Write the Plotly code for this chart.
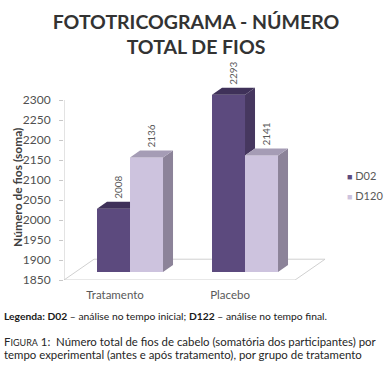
import plotly.graph_objects as go

# ---------------- data ----------------
categories = ["Tratamento", "Placebo"]
series_names = ["D02", "D120"]
d02_values = [2008, 2293]
d120_values = [2136, 2141]
y_tick_values = [1850, 1900, 1950, 2000, 2050, 2100, 2150, 2200, 2250, 2300]

title_text = "FOTOTRICOGRAMA - NÚMERO<br>TOTAL DE FIOS"
y_title = "Número de fios (soma)"
caption_legend = "<b>Legenda: D02</b> – análise no tempo inicial; <b>D122</b> – análise no tempo final."
caption_fig_1 = "F<span style='font-size:9px'>IGURA</span> 1:  Número total de fios de cabelo (somatória dos participantes) por"
caption_fig_2 = "tempo experimental (antes e após tratamento), por grupo de tratamento"

# ---------------- style ----------------
FONT = "Lato"
FRONT = {"D02": "#5c4a7e", "D120": "#cdc3de"}
TOP = {"D02": "#3f3159", "D120": "#a59cb5"}
SIDE = {"D02": "#46375f", "D120": "#8c8399"}
GRAY_TXT = "#595959"

Y_MIN, Y_MAX = 1850, 2300
Y_RANGE = [1850, 2400]
X_RANGE = [-0.574, 1.739]
BAR_W = 0.287          # width of a bar in category units
DEPTH_X = 0.087        # oblique depth of bars (category units)
DEPTH_Y = 17.5         # oblique depth of bars (value units)
INSET_Y = 20           # bars sit a bit behind the front of the floor
FLOOR_W = 2.009
FLOOR_DX = 0.261
FLOOR_DY = 52
LABEL_SHIFT = -0.13

fig = go.Figure()

# floor (3D base) drawn below the traces
fx0 = X_RANGE[0]
fig.add_shape(type="path", layer="below",
              path=(f"M {fx0},{Y_MIN} L {fx0 + FLOOR_W},{Y_MIN} "
                    f"L {fx0 + FLOOR_W + FLOOR_DX},{Y_MIN + FLOOR_DY} "
                    f"L {fx0 + FLOOR_DX},{Y_MIN + FLOOR_DY} Z"),
              line=dict(color="#d0d0d0", width=1), fillcolor="rgba(0,0,0,0)")

series = [("D02", d02_values, -1), ("D120", d120_values, 1)]
base = Y_MIN + INSET_Y
for s_idx, (name, vals, side) in enumerate(series):
    xs = [i + side * BAR_W / 2 for i in range(len(categories))]
    nxt = series[s_idx + 1][1] if s_idx + 1 < len(series) else None
    sx, sy, tx, ty = [], [], [], []
    for k, (xc, v) in enumerate(zip(xs, vals)):
        x0, x1 = xc - BAR_W / 2, xc + BAR_W / 2
        top = v + INSET_Y
        top_next = (nxt[k] + INSET_Y) if nxt is not None else None
        # side face (hidden behind the neighbouring bar below its top)
        low = base if top_next is None else max(base, top_next)
        if low < top:
            sx += [x1, x1, x1 + DEPTH_X, x1 + DEPTH_X, x1, None]
            sy += [low, top, top + DEPTH_Y, low + DEPTH_Y, low, None]
        # top face
        if top_next is not None and top_next >= top + DEPTH_Y:
            tx += [x0, x1, x1, x0 + DEPTH_X, x0, None]
            ty += [top, top, top + DEPTH_Y, top + DEPTH_Y, top, None]
        else:
            tx += [x0, x1, x1 + DEPTH_X, x0 + DEPTH_X, x0, None]
            ty += [top, top, top + DEPTH_Y, top + DEPTH_Y, top, None]
    fig.add_trace(go.Bar(x=xs, y=[v - Y_MIN for v in vals], base=base,
                         width=BAR_W, name=name,
                         marker=dict(color=FRONT[name], line=dict(width=0)),
                         showlegend=False))
    if sx:
        fig.add_trace(go.Scatter(x=sx, y=sy, fill="toself", fillcolor=SIDE[name],
                                 mode="lines", line=dict(width=0, color=SIDE[name]),
                                 hoverinfo="skip", showlegend=False))
    fig.add_trace(go.Scatter(x=tx, y=ty, fill="toself", fillcolor=TOP[name],
                             mode="lines", line=dict(width=0, color=TOP[name]),
                             hoverinfo="skip", showlegend=False))
    for xc, v in zip(xs, vals):
        fig.add_annotation(x=xc + DEPTH_X / 2, y=v + INSET_Y + DEPTH_Y, text=str(v),
                           textangle=-90, showarrow=False, xanchor="center", yanchor="bottom",
                           yshift=1, font=dict(family=FONT, size=10, color=GRAY_TXT))

# vertical axis line
fig.add_shape(type="line", x0=X_RANGE[0], x1=X_RANGE[0], y0=Y_MIN, y1=Y_MAX,
              line=dict(color="#c8c8c8", width=1))

# y axis title
fig.add_annotation(xref="paper", yref="paper", x=-0.1767, y=0.4227, textangle=-90,
                   showarrow=False, xanchor="center", yanchor="middle", text=f"<b>{y_title}</b>",
                   font=dict(family=FONT, size=12, color="#404040"))

# manual legend
legend_y = [0.477, 0.386]
for (name, _, _), ly in zip(series, legend_y):
    fig.add_annotation(xref="paper", yref="paper", x=1.055, y=ly, xanchor="left", yanchor="middle",
                       showarrow=False,
                       text=f"<span style='color:{FRONT[name]};font-size:9px'>■</span> {name}",
                       font=dict(family=FONT, size=11, color=GRAY_TXT))

# captions
cap_x = (2 - 64) / 266
fig.add_annotation(xref="paper", yref="paper", x=cap_x, y=-0.1636, xanchor="left", yanchor="middle",
                   showarrow=False, text=caption_legend,
                   font=dict(family=FONT, size=10.3, color="#1a1a1a"))
fig.add_annotation(xref="paper", yref="paper", x=cap_x, y=-0.2818, xanchor="left", yanchor="middle",
                   showarrow=False, text=caption_fig_1,
                   font=dict(family=FONT, size=11.4, color="#262626"))
fig.add_annotation(xref="paper", yref="paper", x=cap_x, y=-0.3409, xanchor="left", yanchor="middle",
                   showarrow=False, text=caption_fig_2,
                   font=dict(family=FONT, size=11.4, color="#262626"))

fig.update_layout(
    width=392, height=371,
    margin=dict(l=64, r=62, t=60, b=91),
    paper_bgcolor="white", plot_bgcolor="white",
    barmode="overlay",
    title=dict(text=title_text, x=0.5, xref="container", xanchor="center",
               y=1 - 28.5 / 371, yref="container", yanchor="middle",
               font=dict(family=FONT, size=19.5, color="#333333", weight="bold")),
    xaxis=dict(range=X_RANGE, tickvals=[i + LABEL_SHIFT for i in range(len(categories))],
               ticktext=categories, showgrid=False, zeroline=False, showline=False, ticks="",
               ticklabelstandoff=6, automargin=False,
               tickfont=dict(family=FONT, size=11.5, color=GRAY_TXT), fixedrange=True),
    yaxis=dict(range=Y_RANGE, tickvals=y_tick_values, showgrid=False, zeroline=False,
               showline=False, ticks="outside", ticklen=4, tickcolor="#c8c8c8",
               ticklabelstandoff=6, automargin=False,
               tickfont=dict(family=FONT, size=12, color="#505050")),
    showlegend=False,
)

fig.write_html("out.html", config={"displayModeBar": False},
               post_script="document.body.style.margin='0';document.body.style.overflow='hidden';")
